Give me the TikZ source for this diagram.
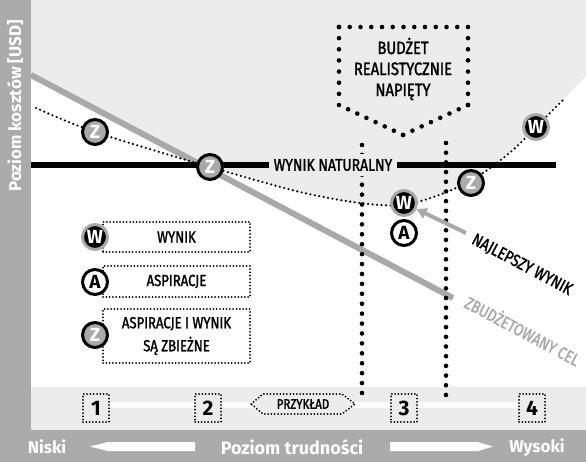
\documentclass[tikz,border=0pt]{standalone}
\usepackage{fontspec}
\setmainfont{Fira Sans}
\newfontfamily\condf[FakeStretch=0.82, FakeBold=1.6]{Fira Sans}
\usetikzlibrary{arrows.meta}
\definecolor{barg}{HTML}{ABABAB}
\definecolor{lightg}{HTML}{ECECEC}
\definecolor{lineg}{HTML}{A9A9A9}
\begin{document}
\begin{tikzpicture}[x=1pt,y=-1pt,
  bigdots/.style={line width=4.6pt, line cap=round},
  smalldots/.style={line width=2pt, dash pattern=on 0pt off 3.3pt, line cap=round},
  curvedots/.style={line width=2.4pt, dash pattern=on 0pt off 4.5pt, line cap=round},
  cond/.style={font=\condf\fontsize{17}{20}\selectfont},
  mk/.style={circle, line width=3pt, minimum size=25pt, inner sep=0pt, font=\bfseries\fontsize{19}{19}\selectfont},
  wmk/.style={mk, fill=black, draw=lineg, text=white},
  amk/.style={mk, fill=white, draw=black, text=black},
  zmk/.style={mk, fill=lineg, draw=black, text=white},
  legbox/.style={draw, smalldots, minimum width=147pt, inner sep=0pt, align=center, font=\condf\fontsize{16}{23}\selectfont},
  numbox/.style={draw, smalldots, fill=lightg, minimum width=26pt, minimum height=28pt, inner sep=0pt, font=\bfseries\fontsize{21}{21}\selectfont},
  axlab/.style={text=white, font=\bfseries\fontsize{17}{17}\selectfont},
]
\useasboundingbox (0,0) rectangle (586,462);
\fill[white] (0,0) rectangle (586,462);
% light gray upper region
\fill[lightg] (31,75) -- (31,0) -- (586,0) -- (586,76) -- plot[smooth] coordinates {(563,100) (536,127) (513,150) (480,175) (447,192) (404,205) (360,203) (300,192) (210,167)} -- cycle;
% bars
\fill[barg] (0,0) rectangle (31,462);
\fill[barg] (0,430) rectangle (586,462);
\fill[lightg] (31,387) rectangle (586,430);
% budgeted line
\coordinate (g1) at (31,75);
\coordinate (g2) at (453,298);
\draw[lineg, line width=6pt] (g1) -- (g2);
\node[text=lineg, cond, rotate=-28] (zc) at (523,330) {ZBUDŻETOWANY CEL};
% dotted result curve
\draw[curvedots] plot[smooth] coordinates {(36,108) (95,132) (210,167) (300,192) (360,203) (404,205) (447,192) (480,175) (513,150) (536,127) (563,100)};
% vertical dotted lines
\coordinate (v1t) at (362,145);
\coordinate (v1b) at (362,393);
\draw[bigdots, dash pattern=on 0pt off 9.92pt] (v1t) -- (v1b);
\coordinate (v2t) at (446,143);
\coordinate (v2b) at (446,395);
\draw[bigdots, dash pattern=on 0pt off 9.69pt] (v2t) -- (v2b);
% natural result line
\coordinate (n1) at (31,165);
\coordinate (n2) at (556,165);
\node[cond, fill=lightg, inner sep=5pt] (nat) at (333,165) {WYNIK NATURALNY};
\draw[line width=6pt] (n1) -- (nat.west);
\draw[line width=6pt] (nat.east) -- (n2);
% budget box
\coordinate (bA) at (339,27);
\coordinate (bB) at (468,27);
\coordinate (bC) at (468,105);
\coordinate (bD) at (403,135);
\coordinate (bE) at (339,105);
\draw[bigdots, dash pattern=on 0pt off 10.75pt] (bA) -- (bB);
\draw[bigdots, dash pattern=on 0pt off 11.14pt] (bB) -- (bC);
\draw[bigdots, dash pattern=on 0pt off 10.2pt] (bC) -- (bD);
\draw[bigdots, dash pattern=on 0pt off 10.1pt] (bD) -- (bE);
\draw[bigdots, dash pattern=on 0pt off 11.14pt] (bE) -- (bA);
\node[align=center, font=\condf\fontsize{18}{21}\selectfont] (bud) at (403,69) {BUDŻET\\REALISTYCZNIE\\NAPIĘTY};
% legend
\node[legbox, minimum height=30pt] (lw) at (176.5,237) {WYNIK};
\node[legbox, minimum height=31pt] (la) at (176.5,281.5) {ASPIRACJE};
\node[legbox, minimum height=54pt] (lz) at (176.5,336) {ASPIRACJE I WYNIK\\SĄ ZBIEŻNE};
\node[wmk] (kw) at (95,237) {W};
\node[amk] (ka) at (95,282) {A};
\node[zmk] (kz) at (95,335) {Z};
% chart markers
\node[zmk] (z1) at (95,132) {Z};
\node[zmk] (z2) at (210,167) {Z};
\node[zmk] (z3) at (471,183) {Z};
\node[wmk] (w1) at (404,203) {W};
\node[amk] (a1) at (404,233) {A};
\node[wmk] (w2) at (536,127) {W};
% best result arrow
\node[cond, rotate=-28] (best) at (522,265) {NAJLEPSZY WYNIK};
\coordinate (bs) at (466,233);
\draw[lineg, line width=4pt, -{Triangle[length=10pt,width=11pt]}] (bs) -- (w1);
% bottom band
\coordinate (c1) at (96,405);
\coordinate (c4) at (532,405);
\draw[white, line width=6pt] (c1) -- (c4);
\node[numbox] (b1) at (96,408) {1};
\node[numbox] (b2) at (208,408) {2};
\node[numbox] (b3) at (404,408) {3};
\node[numbox] (b4) at (532,408) {4};
\draw[smalldots, fill=lightg] (251,404) -- (263,394) -- (342,394) -- (355,404) -- (342,414) -- (263,414) -- cycle;
\node[font=\condf\fontsize{14}{14}\selectfont] (prz) at (303,404) {PRZYKŁAD};
% axis labels
\node[axlab, rotate=90] (yl) at (15,106) {Poziom kosztów [USD]};
\node[axlab] (niski) at (47,447) {Niski};
\node[axlab, font=\bfseries\fontsize{18}{18}\selectfont] (pt) at (292,447) {Poziom trudności};
\node[axlab] (wys) at (537,447) {Wysoki};
\fill[white] (90,446.5) -- (108,442) -- (195,442) -- (195,451) -- (108,451) -- cycle;
\fill[white] (390,442) -- (478,442) -- (493,446.5) -- (478,451) -- (390,451) -- cycle;
\end{tikzpicture}
\end{document}
